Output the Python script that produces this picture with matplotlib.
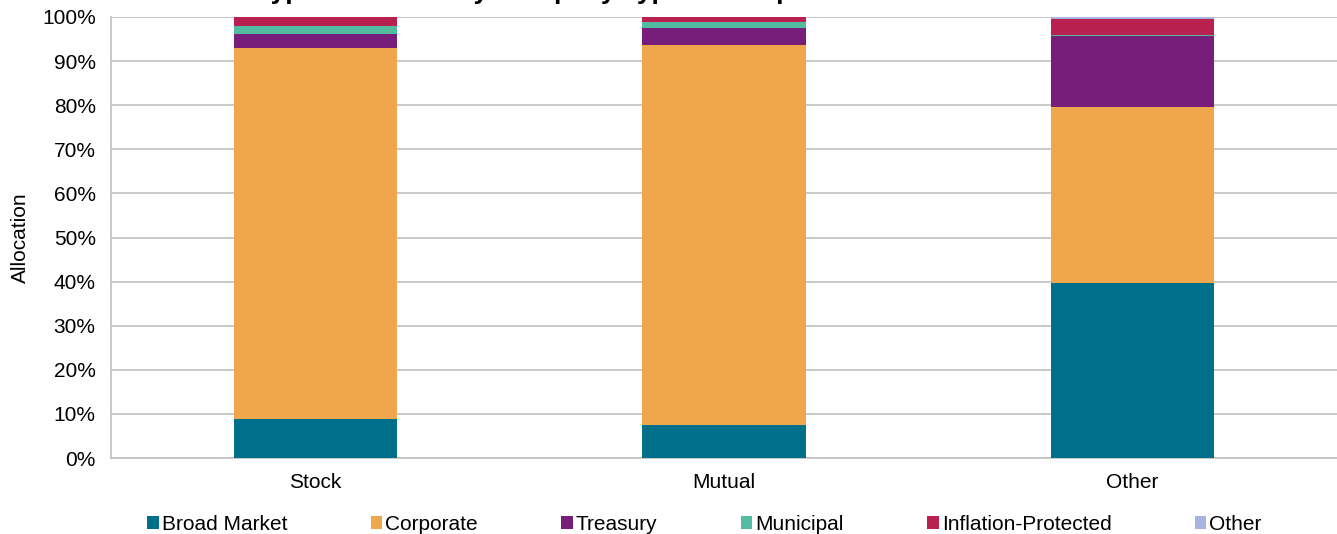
import matplotlib
matplotlib.use('Agg')
import matplotlib.pyplot as plt
import numpy as np

plt.rcParams['font.family'] = ['Liberation Sans', 'DejaVu Sans']

# data
categories = ['Stock', 'Mutual', 'Other']
series_names = ['Broad Market', 'Corporate', 'Treasury', 'Municipal', 'Inflation-Protected', 'Other']
broad_market = [8.8, 7.5, 39.6]
corporate = [84.2, 86.1, 40.0]
treasury = [3.1, 3.9, 16.2]
municipal = [1.9, 1.3, 0.2]
inflation_protected = [1.9, 1.1, 3.5]
other = [0.1, 0.1, 0.5]

colors = ['#00708a', '#f0a64b', '#771e7b', '#52bba0', '#b8204f', '#a8b4de']
series = [broad_market, corporate, treasury, municipal, inflation_protected, other]

fig = plt.figure(figsize=(13.37, 5.34), dpi=100)
ax = fig.add_axes([111 / 1337, 76 / 534, 1 - 111 / 1337, 441 / 534])

x = np.arange(len(categories))
bottom = np.zeros(len(categories))
handles = []
for name, vals, col in zip(series_names, series, colors):
    b = ax.bar(x, vals, width=0.4, bottom=bottom, color=col, label=name,
               edgecolor='none', zorder=3)
    handles.append(b)
    bottom += np.array(vals)

ax.set_xlim(-0.5, 2.5)
ax.set_ylim(0, 100)
ax.set_yticks(np.arange(0, 101, 10))
ax.set_yticklabels([f'{v}%' for v in range(0, 101, 10)])
ax.set_xticks(x)
ax.set_xticklabels(categories)
ax.tick_params(axis='both', length=0, labelsize=15, colors='#000000')
ax.tick_params(axis='x', pad=11)
ax.tick_params(axis='y', pad=11)
ax.yaxis.grid(True, color='#c0c0c0', linewidth=1.2, zorder=0)
ax.set_axisbelow(True)
for s in ['top', 'right']:
    ax.spines[s].set_visible(False)
for s in ['left', 'bottom']:
    ax.spines[s].set_color('#c0c0c0')
    ax.spines[s].set_linewidth(1.2)
ax.set_ylabel('Allocation', fontsize=15, labelpad=8.5)

leg = fig.legend(handles=handles, labels=series_names, loc='lower center',
                 bbox_to_anchor=(0.527, -0.035), ncol=6, frameon=False,
                 fontsize=15, handlelength=0.55, handleheight=0.55,
                 handletextpad=0.15, columnspacing=4.0)

# title, clipped at the top edge as in the source
fig.text(110 / 1337, 1 + 1 / 534,
         'Bond Fund Type Allocation by Company Type and Expense Ratio',
         fontsize=19, fontweight='bold', ha='left', va='baseline')

fig.savefig('out.png', dpi=100)
plt.close()
